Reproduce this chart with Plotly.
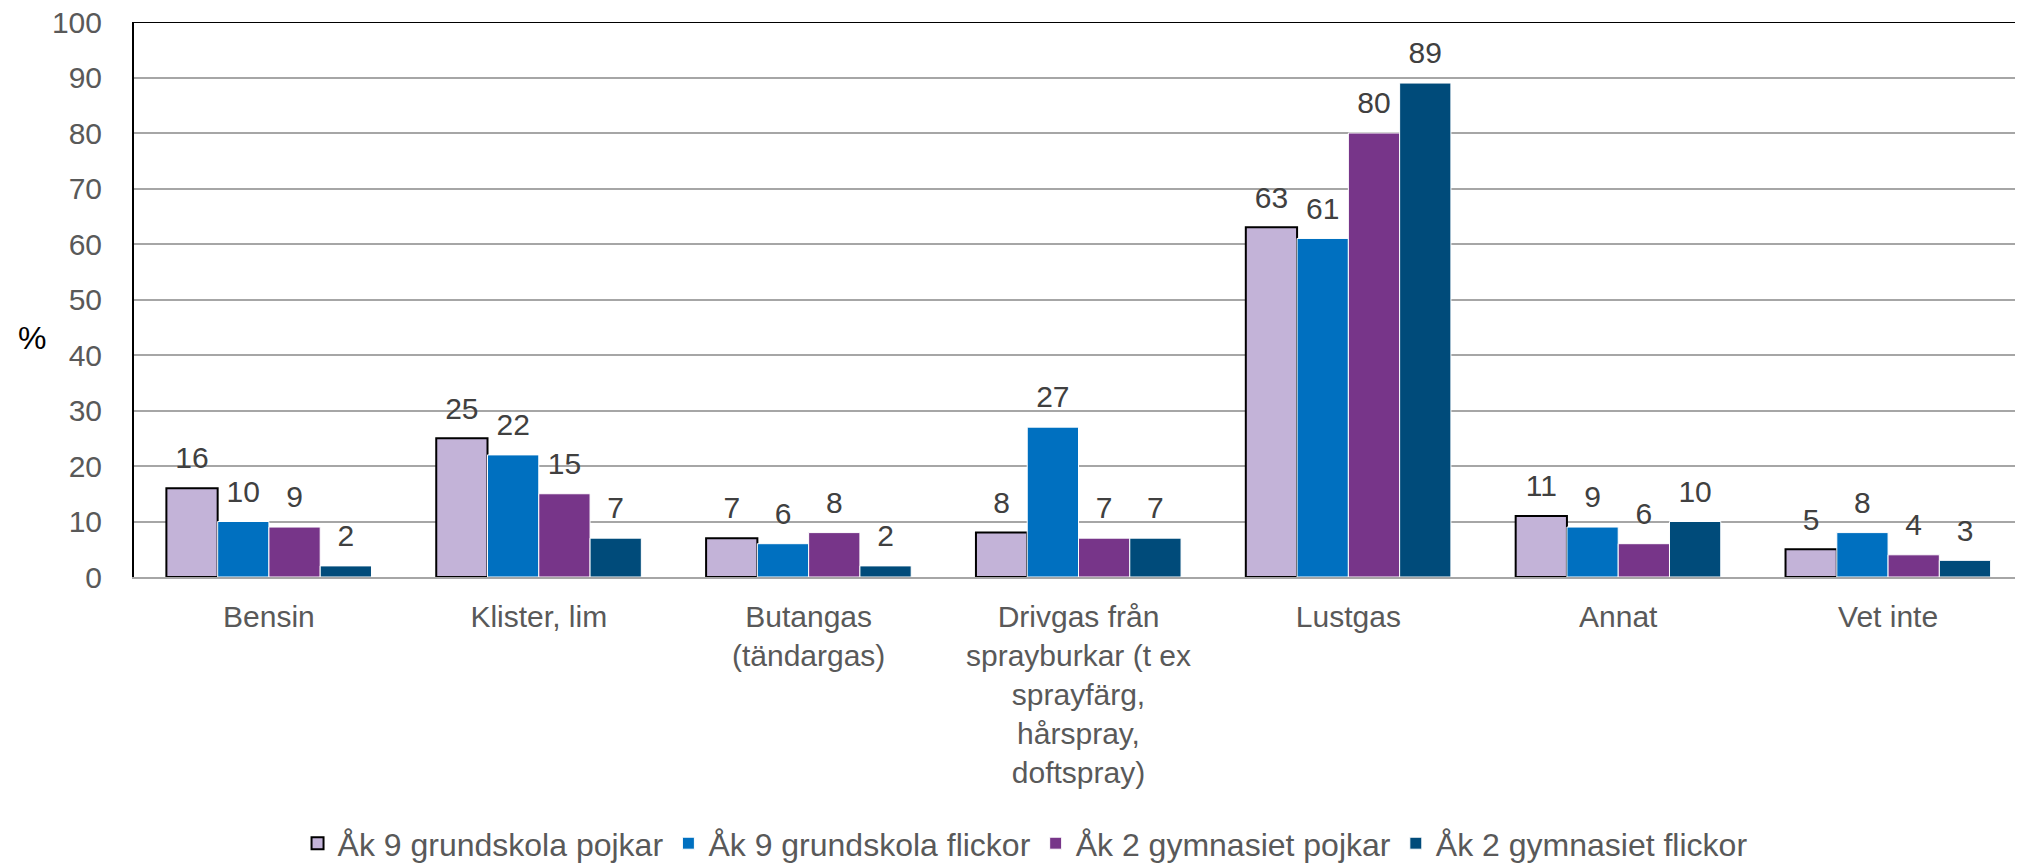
import plotly.graph_objects as go

categories = ["Bensin", "Klister, lim", "Butangas<br>(tändargas)",
              "Drivgas från<br>sprayburkar (t ex<br>sprayfärg,<br>hårspray,<br>doftspray)",
              "Lustgas", "Annat", "Vet inte"]
series_names = ["Åk 9 grundskola pojkar", "Åk 9 grundskola flickor",
                "Åk 2 gymnasiet pojkar", "Åk 2 gymnasiet flickor"]
ak9_pojkar = [16, 25, 7, 8, 63, 11, 5]
ak9_flickor = [10, 22, 6, 27, 61, 9, 8]
gy2_pojkar = [9, 15, 8, 7, 80, 6, 4]
gy2_flickor = [2, 7, 2, 7, 89, 10, 3]
y_ticks = [0, 10, 20, 30, 40, 50, 60, 70, 80, 90, 100]

colors = ["#C3B3D8", "#0070C0", "#773589", "#004B7A"]
line_colors = ["#000000", "#FFFFFF", "#FFFFFF", "#FFFFFF"]
line_widths = [2, 1, 1, 1]
FONT = "Liberation Sans, Arial, sans-serif"

all_series = [ak9_pojkar, ak9_flickor, gy2_pojkar, gy2_flickor]

fig = go.Figure()
for i, (name, vals, c, lc, lw) in enumerate(zip(series_names, all_series,
                                               colors, line_colors, line_widths)):
    fig.add_trace(go.Bar(
        x=categories, y=vals, name=name,
        marker=dict(color=c, line=dict(color=lc, width=lw)),
        offsetgroup=str(i),
    ))
for i, vals in enumerate(all_series):
    fig.add_trace(go.Scatter(
        x=categories, y=vals, mode="markers+text", text=[str(v) for v in vals],
        textposition="top center", cliponaxis=False, showlegend=False,
        hoverinfo="skip", offsetgroup=str(i),
        marker=dict(size=18, color="rgba(0,0,0,0)"),
        textfont=dict(size=30, color="#404040", family=FONT),
    ))

# the page body has an 8px margin; compensate so the plot lands where the reference's does
fig.update_layout(
    width=2023, height=866,
    margin=dict(l=126, r=8, t=14, b=297, autoexpand=False),
    paper_bgcolor="white", plot_bgcolor="white",
    barmode="group", bargap=0.24, bargroupgap=0.0,
    scattermode="group", scattergap=0.24,
    font=dict(family=FONT, size=30, color="#595959"),
    showlegend=True,
    legend=dict(orientation="h", x=0.4717, xanchor="center", y=-0.48, yanchor="middle",
                font=dict(size=32, color="#595959"), itemwidth=30, tracegroupgap=0,
                bgcolor="rgba(0,0,0,0)"),
)
fig.update_xaxes(showline=True, linecolor="#A6A6A6", linewidth=2, ticks="",
                 ticklabelstandoff=12,
                 tickfont=dict(size=30, color="#595959"), showgrid=False)
fig.update_yaxes(range=[0, 100], tickvals=y_ticks, showgrid=True, gridcolor="#A6A6A6",
                 gridwidth=1.5, showline=True, linecolor="#000000", linewidth=2,
                 ticks="", ticklabelstandoff=24, zeroline=False,
                 ticklabeloverflow="allow",
                 tickfont=dict(size=30, color="#595959"))
fig.add_shape(type="line", xref="paper", yref="y", x0=0, x1=1, y0=100, y1=100,
              line=dict(color="#000000", width=2))
fig.add_annotation(text="%", xref="paper", yref="paper", x=-0.054, y=0.43,
                   xanchor="center", yanchor="middle", showarrow=False,
                   font=dict(size=32, color="#000000", family=FONT))

fig.write_html("out.html")
